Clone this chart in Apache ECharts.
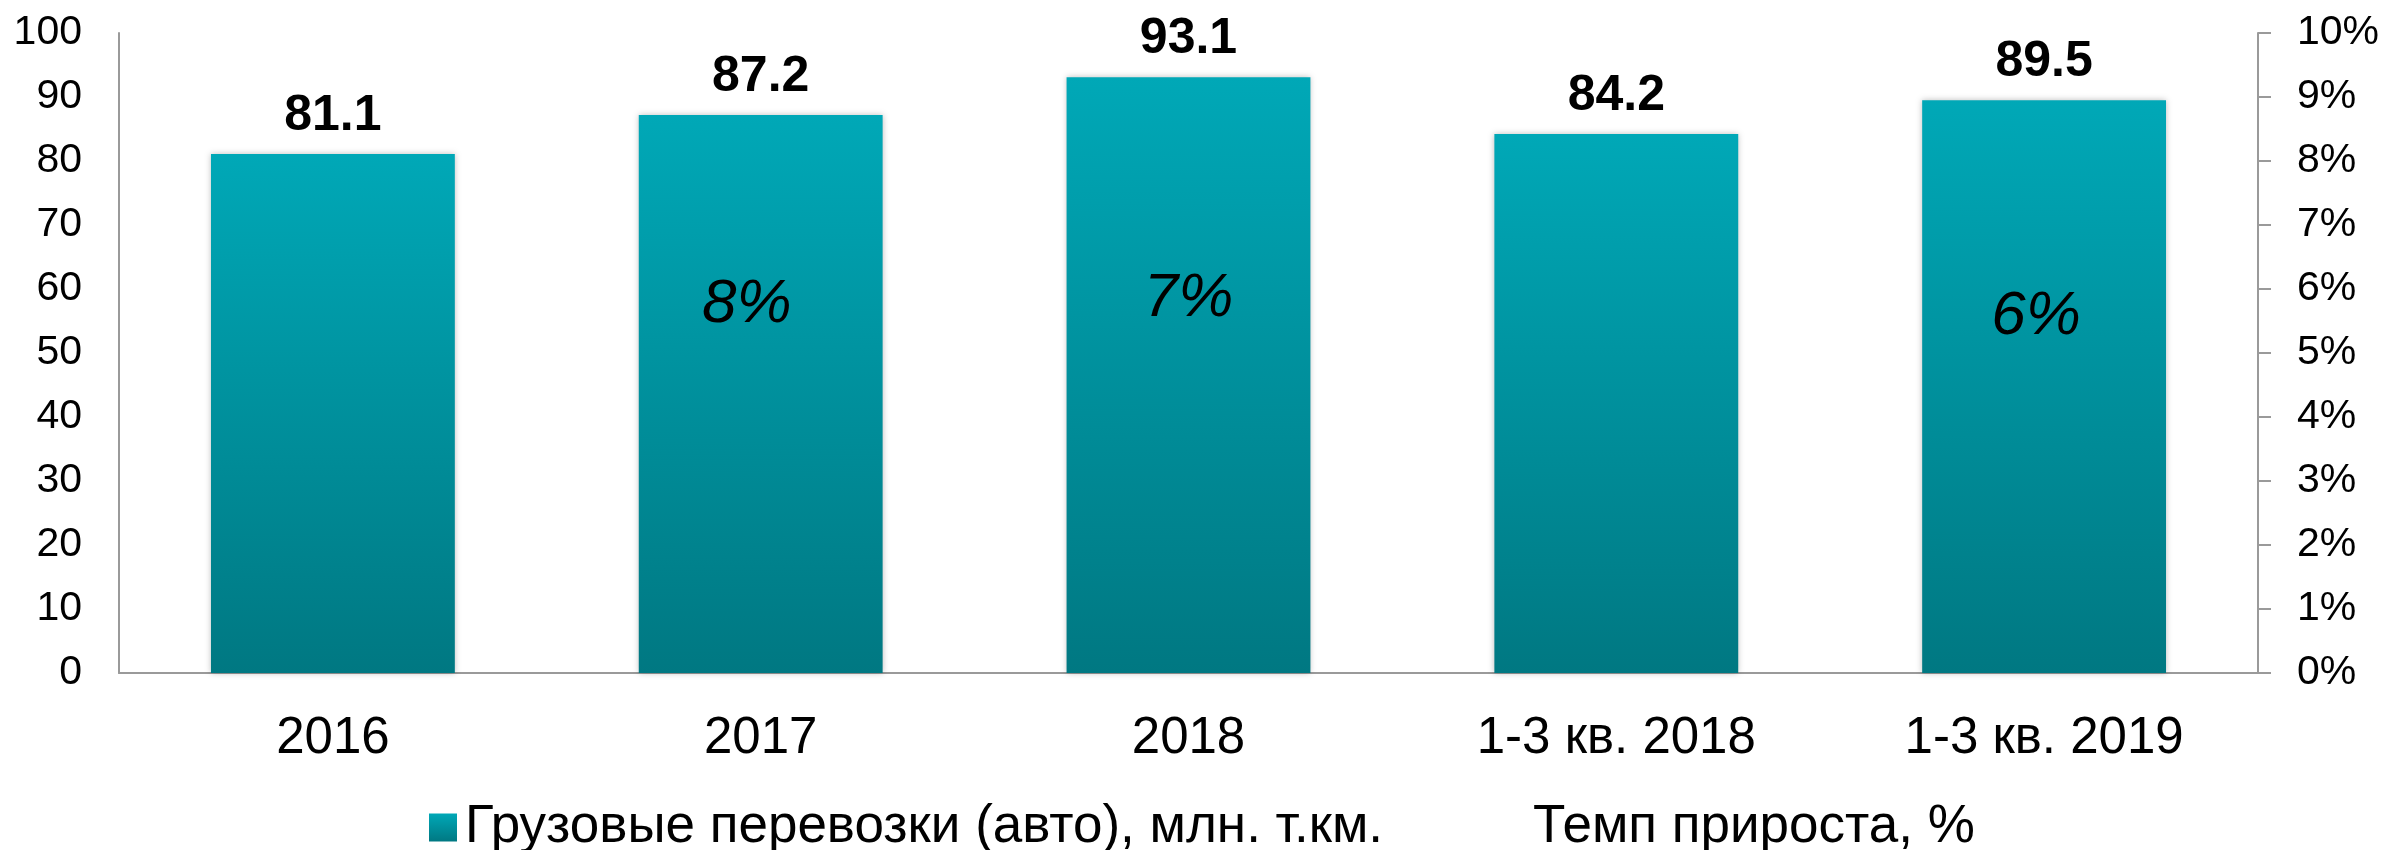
<!DOCTYPE html>
<html>
<head>
<meta charset="utf-8">
<script src="https://cdn.jsdelivr.net/npm/echarts@6/dist/echarts.min.js"></script>
<style>
  html, body { margin: 0; padding: 0; background: #fff; }
  #chart { width: 2386px; height: 850px; }
</style>
</head>
<body>
<div id="chart"></div>
<script>
// данные
const categories = ['2016', '2017', '2018', '1-3 кв. 2018', '1-3 кв. 2019'];
const cargoValues = [81.1, 87.2, 93.1, 84.2, 89.5];       // млн. т.км
const growthValues = [null, 7.5, 6.8, null, 6.3];          // темп прироста, %
const barName = 'Грузовые перевозки (авто), млн. т.км.';
const lineName = 'Темп прироста, %';

// сдвиг подписей темпа прироста (px), только оформление
const growthLabelDx = [0, -14, 0, 0, -8];
const growthLabelDy = [0, 112, 61, 0, 47];

const FONT = 'Liberation Sans, Arial, sans-serif';
const chart = echarts.init(document.getElementById('chart'));

const option = {
  animation: false,
  textStyle: {fontFamily: FONT},
  grid: {left: 119, right: 128, top: 33, bottom: 177},
  legend: {
    left: 424,
    top: 796,
    itemWidth: 28,
    itemHeight: 28,
    itemGap: 114,
    textStyle: {fontSize: 53, color: '#000', fontFamily: FONT, padding: [0, 0, 0, 3]},
    data: [
      {name: barName, icon: 'rect'},
      {name: lineName, icon: 'none'}
    ]
  },
  xAxis: {
    type: 'category',
    data: categories,
    axisLine: {lineStyle: {color: '#9a9a9a', width: 2}},
    axisTick: {show: false},
    axisLabel: {color: '#000', fontSize: 51, margin: 40}
  },
  yAxis: [
    {
      type: 'value',
      min: 0, max: 100, interval: 10,
      axisLine: {show: true, lineStyle: {color: '#9a9a9a', width: 2}},
      axisTick: {show: false},
      splitLine: {show: false},
      axisLabel: {color: '#000', fontSize: 41, margin: 37}
    },
    {
      type: 'value',
      min: 0, max: 10, interval: 1,
      position: 'right',
      axisLine: {show: true, lineStyle: {color: '#9a9a9a', width: 2}},
      axisTick: {show: true, length: 13, lineStyle: {color: '#9a9a9a', width: 2}},
      splitLine: {show: false},
      axisLabel: {color: '#000', fontSize: 41, margin: 39, formatter: '{value}%'}
    }
  ],
  series: [
    {
      name: barName,
      type: 'bar',
      data: cargoValues,
      barWidth: '57%',
      itemStyle: {
        color: new echarts.graphic.LinearGradient(0, 0, 0, 1, [
          {offset: 0, color: '#00A8B7'},
          {offset: 1, color: '#007882'}
        ]),
        shadowColor: 'rgba(0,0,0,0.25)',
        shadowBlur: 6
      },
      label: {
        show: true,
        position: 'top',
        distance: 13,
        color: '#000',
        fontSize: 50,
        fontWeight: 'bold'
      }
    },
    {
      name: lineName,
      type: 'line',
      yAxisIndex: 1,
      data: growthValues.map((v, i) => ({
        value: v,
        label: {offset: [growthLabelDx[i], growthLabelDy[i]]}
      })),
      symbol: 'circle',
      symbolSize: 2,
      showSymbol: true,
      showAllSymbol: true,
      lineStyle: {opacity: 0},
      itemStyle: {color: 'rgba(0,0,0,0)'},
      label: {
        show: true,
        position: 'inside',
        color: '#000',
        fontSize: 62,
        fontStyle: 'italic',
        formatter: (p) => (p.value == null ? '' : Math.round(p.value) + '%')
      }
    }
  ]
};

chart.setOption(option);
</script>
</body>
</html>
